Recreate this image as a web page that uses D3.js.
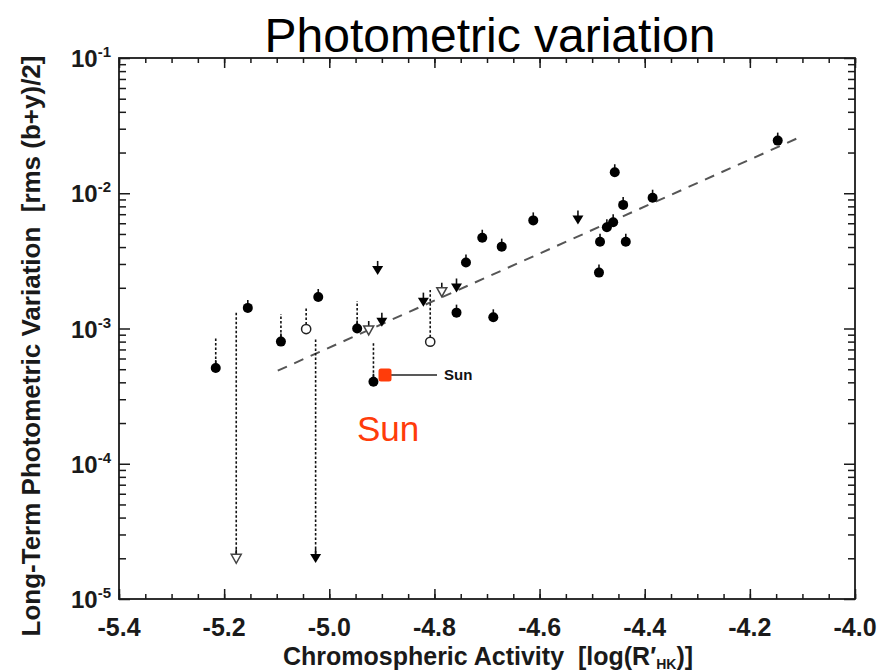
<!DOCTYPE html>
<html>
<head>
<meta charset="utf-8">
<script src="https://cdn.jsdelivr.net/npm/d3@7"></script>
<style>
  body { margin: 0; background: #fff; }
  svg { display: block; }
</style>
</head>
<body>
<div id="chart"></div>
<script>
// ---- data ----
const xTicks = [-5.4, -5.2, -5.0, -4.8, -4.6, -4.4, -4.2, -4.0]
const xTickLabels = ['-5.4', '-5.2', '-5.0', '-4.8', '-4.6', '-4.4', '-4.2', '-4.0']
const yTickExp = [-1, -2, -3, -4, -5]

// filled circles (detections)
const dotX = [-5.216, -5.155, -5.092, -5.021, -4.947, -4.916, -4.758, -4.740, -4.709, -4.688, -4.672,
  -4.612, -4.487, -4.485, -4.472, -4.460, -4.457, -4.441, -4.436, -4.385, -4.147]
const dotY = [5.1e-4, 1.42e-3, 8.0e-4, 1.71e-3, 1.0e-3, 4.04e-4, 1.31e-3, 3.08e-3, 4.69e-3, 1.21e-3, 4.03e-3,
  6.3e-3, 2.59e-3, 4.38e-3, 5.6e-3, 6.1e-3, 1.43e-2, 8.2e-3, 4.38e-3, 9.27e-3, 2.45e-2]

// open circles
const ringX = [-5.044, -4.808]
const ringY = [9.9e-4, 7.98e-4]

// filled triangles (upper limits)
const arrowX = [-5.026, -4.908, -4.900, -4.821, -4.758, -4.527]
const arrowY = [2.01e-5, 2.71e-3, 1.12e-3, 1.58e-3, 2.01e-3, 6.4e-3]

// open triangles
const openTriX = [-5.177, -4.925, -4.786]
const openTriY = [2.0e-5, 9.75e-4, 1.87e-3]

// dotted vertical ranges
const rangeX = [-5.216, -5.177, -5.092, -5.044, -5.026, -4.947, -4.916, -4.808]
const rangeLo = [5.1e-4, 2.0e-5, 8.0e-4, 9.9e-4, 2.01e-5, 1.0e-3, 4.04e-4, 7.98e-4]
const rangeHi = [8.65e-4, 1.32e-3, 1.28e-3, 1.42e-3, 8.36e-4, 1.6e-3, 7.94e-4, 1.93e-3]

// the Sun
const sunX = [-4.894]
const sunY = [4.53e-4]

// dashed fit line end points
const fitX = [-5.098, -4.098]
const fitY = [4.88e-4, 2.67e-2]

// ---- layout ----
const W = 890, H = 672
const m = { l: 119, r: 855, t: 58, b: 599 }
const ink = '#1a1a1a'

const svg = d3.select('#chart').append('svg')
  .attr('width', W).attr('height', H)
  .attr('font-family', 'Liberation Sans, Arial, Helvetica, sans-serif')

const x = d3.scaleLinear().domain([-5.4, -4.0]).range([m.l, m.r])
const y = d3.scaleLog().domain([1e-5, 1e-1]).range([m.b, m.t])

// title
svg.append('text')
  .attr('x', 490).attr('y', 52)
  .attr('text-anchor', 'middle')
  .attr('font-size', 48)
  .attr('fill', '#000')
  .text('Photometric variation')

// ---- axes (ticks point inward on all four sides) ----
const minorX = d3.range(0, 29).map(i => -5.4 + i * 0.05)
const yAll = y.ticks()
const isMajor = v => Math.abs(Math.log10(v) - Math.round(Math.log10(v))) < 1e-6
const minorY = yAll.filter(v => !isMajor(v))
const majorY = yAll.filter(isMajor)

const addAxis = (axis, tx, ty) => {
  const g = svg.append('g')
    .attr('transform', 'translate(' + tx + ',' + ty + ')')
    .call(axis.tickFormat(''))
  g.select('.domain').remove()
  g.selectAll('line').attr('stroke', ink).attr('stroke-width', 1.5)
}
addAxis(d3.axisBottom(x).tickValues(minorX).tickSize(-5), 0, m.b)
addAxis(d3.axisBottom(x).tickValues(xTicks).tickSize(-10), 0, m.b)
addAxis(d3.axisTop(x).tickValues(minorX).tickSize(-5), 0, m.t)
addAxis(d3.axisTop(x).tickValues(xTicks).tickSize(-10), 0, m.t)
addAxis(d3.axisLeft(y).tickValues(minorY).tickSize(-7), m.l, 0)
addAxis(d3.axisLeft(y).tickValues(majorY).tickSize(-11), m.l, 0)
addAxis(d3.axisRight(y).tickValues(minorY).tickSize(-7), m.r, 0)
addAxis(d3.axisRight(y).tickValues(majorY).tickSize(-11), m.r, 0)

// frame
svg.append('rect')
  .attr('x', m.l).attr('y', m.t)
  .attr('width', m.r - m.l).attr('height', m.b - m.t)
  .attr('fill', 'none').attr('stroke', ink).attr('stroke-width', 1.8)

// x tick labels
svg.append('g').selectAll('text')
  .data(xTicks)
  .enter()
  .append('text')
  .attr('x', d => x(d))
  .attr('y', 636)
  .attr('text-anchor', 'middle')
  .attr('font-size', 25)
  .attr('font-weight', 'bold')
  .attr('fill', ink)
  .text((d, i) => xTickLabels[i])

// y tick labels 10^n
const yLab = svg.append('g').selectAll('text')
  .data(yTickExp)
  .enter()
  .append('text')
  .attr('x', 111)
  .attr('y', d => y(Math.pow(10, d)) + 9)
  .attr('text-anchor', 'end')
  .attr('font-weight', 'bold')
  .attr('fill', ink)
yLab.append('tspan').attr('font-size', 24).text('10')
yLab.append('tspan').attr('font-size', 15).attr('dy', -10).text(d => String(d))

// axis titles
const xt = svg.append('text')
  .attr('x', 488).attr('y', 665)
  .attr('text-anchor', 'middle')
  .attr('font-size', 25)
  .attr('font-weight', 'bold')
  .attr('fill', ink)
xt.append('tspan').text('Chromospheric Activity\u00a0\u00a0[log(R\u2032')
xt.append('tspan').attr('font-size', 14).attr('dy', 4).text('HK')
xt.append('tspan').attr('dy', -4).text(')]')

svg.append('text')
  .attr('transform', 'translate(40,' + 346 + ') rotate(-90)')
  .attr('text-anchor', 'middle')
  .attr('font-size', 26)
  .attr('font-weight', 'bold')
  .attr('fill', ink)
  .text('Long-Term Photometric Variation\u00a0\u00a0[rms (b+y)/2]')

// ---- plot marks ----
const plot = svg.append('g')

// dashed fit line
plot.append('path')
  .attr('d', d3.line().x(d => x(d[0])).y(d => y(d[1]))(fitX.map((v, i) => [v, fitY[i]])))
  .attr('stroke', '#555')
  .attr('stroke-width', 2)
  .attr('stroke-dasharray', '10,8')
  .attr('fill', 'none')

// dotted ranges
plot.selectAll('.range')
  .data(rangeX)
  .enter()
  .append('line')
  .classed('range', true)
  .attr('x1', d => x(d)).attr('x2', d => x(d))
  .attr('y1', (d, i) => y(rangeLo[i]))
  .attr('y2', (d, i) => y(rangeHi[i]))
  .attr('stroke', '#111')
  .attr('stroke-width', 1.6)
  .attr('stroke-dasharray', '2.5,2')

// small stem above every symbol
const stems = [].concat(
  dotX.map((v, i) => [v, dotY[i], 8]),
  arrowX.map((v, i) => [v, arrowY[i], 9]),
  openTriX.map((v, i) => [v, openTriY[i], 9])
)
plot.selectAll('.stem')
  .data(stems)
  .enter()
  .append('line')
  .classed('stem', true)
  .attr('x1', d => x(d[0])).attr('x2', d => x(d[0]))
  .attr('y1', d => y(d[1]) - 2)
  .attr('y2', d => y(d[1]) - d[2])
  .attr('stroke', '#111')
  .attr('stroke-width', 1.6)

// filled circles
plot.selectAll('.dot')
  .data(dotX)
  .enter()
  .append('circle')
  .classed('dot', true)
  .attr('cx', d => x(d))
  .attr('cy', (d, i) => y(dotY[i]))
  .attr('r', 5)
  .attr('fill', '#000')

// open circles
plot.selectAll('.ring')
  .data(ringX)
  .enter()
  .append('circle')
  .classed('ring', true)
  .attr('cx', d => x(d))
  .attr('cy', (d, i) => y(ringY[i]))
  .attr('r', 4.6)
  .attr('fill', '#fff')
  .attr('stroke', '#222')
  .attr('stroke-width', 1.5)

// triangles pointing down
const tri = 'M-5.5,-4L5.5,-4L0,5Z'
plot.selectAll('.arrow')
  .data(arrowX)
  .enter()
  .append('path')
  .classed('arrow', true)
  .attr('d', tri)
  .attr('transform', (d, i) => 'translate(' + x(d) + ',' + y(arrowY[i]) + ')')
  .attr('fill', '#000')

plot.selectAll('.otri')
  .data(openTriX)
  .enter()
  .append('path')
  .classed('otri', true)
  .attr('d', 'M-5,-4L5,-4L0,5Z')
  .attr('transform', (d, i) => 'translate(' + x(d) + ',' + y(openTriY[i]) + ')')
  .attr('fill', '#fff')
  .attr('stroke', '#444')
  .attr('stroke-width', 1.5)

// the Sun marker and its labels
const sx = x(sunX[0]), sy = y(sunY[0])
plot.append('line')
  .attr('x1', sx).attr('x2', sx + 52)
  .attr('y1', sy).attr('y2', sy)
  .attr('stroke', '#222').attr('stroke-width', 1.4)
plot.append('rect')
  .attr('x', sx - 6.5).attr('y', sy - 6.5)
  .attr('width', 13).attr('height', 13)
  .attr('rx', 2.5)
  .attr('fill', '#ff3c0a')
plot.append('text')
  .attr('x', sx + 59).attr('y', sy + 5)
  .attr('font-size', 15)
  .attr('font-weight', 'bold')
  .attr('fill', '#111')
  .text('Sun')
svg.append('text')
  .attr('x', sx - 28).attr('y', sy + 66)
  .attr('font-size', 35)
  .attr('fill', '#ff3c0a')
  .text('Sun')
</script>
</body>
</html>
